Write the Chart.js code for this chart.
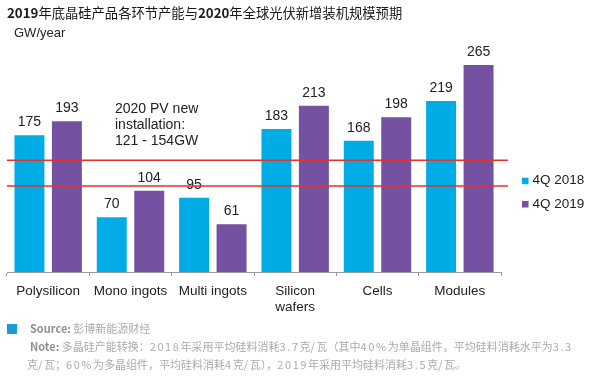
<!DOCTYPE html>
<html><head><meta charset="utf-8">
<script src="https://cdn.jsdelivr.net/npm/chart.js@4.4.1/dist/chart.umd.min.js"></script>
<style>
html,body{margin:0;padding:0;background:#fff;}
#wrap{position:relative;width:600px;height:377px;overflow:hidden;}
#c{position:absolute;left:0;top:0;}
.t{position:absolute;white-space:nowrap;}
#title{left:7px;top:4px;font-size:13.3px;line-height:17px;font-family:"Noto Sans CJK SC";color:#1a1a1a;}
#title b{font-weight:700;}
#unit{left:14px;top:25px;font:13px "Liberation Sans",Arial,sans-serif;line-height:16px;color:#222;}
#note{left:115px;top:100px;font:14px "Liberation Sans",Arial,sans-serif;line-height:16px;color:#222;}
#sq{position:absolute;left:7px;top:324px;width:10px;height:10px;background:#1a9bd7;}
.f{font-family:"Noto Sans CJK SC";font-size:11px;line-height:17.5px;color:#ababab;}
.f b{font-weight:700;color:#8f8f8f;}
.f i{font-style:normal;letter-spacing:1.6px;}
</style></head>
<body>
<div id="wrap">
<canvas id="c" width="600" height="377"></canvas>
<div class="t" id="title"><b>2019</b>年底晶硅产品各环节产能与<b>2020</b>年全球光伏新增装机规模预期</div>
<div class="t" id="unit">GW/year</div>
<div class="t" id="note">2020 PV new<br>installation:<br>121 - 154GW</div>
<div id="sq"></div>
<div class="t f" style="left:30px;top:320px;"><b>Source:</b> 彭博新能源财经</div>
<div class="t f" style="left:30px;top:338px;"><b>Note:</b> 多晶硅产能转换：<i>2018</i>年采用平均硅料消耗<i>3.7</i>克<i>/</i>瓦（其中<i>40%</i>为单晶组件，平均硅料消耗水平为<i>3.3</i></div>
<div class="t f" style="left:27px;top:355.5px;">克<i>/</i>瓦；<i>60%</i>为多晶组件，平均硅料消耗<i>4</i>克<i>/</i>瓦），<i>2019</i>年采用平均硅料消耗<i>3.5</i>克<i>/</i>瓦。</div>
</div>
<script>
const categories = ["Polysilicon", "Mono ingots", "Multi ingots", ["Silicon", "wafers"], "Cells", "Modules"];
const seriesNames = ["4Q 2018", "4Q 2019"];
const values2018 = [175, 70, 95, 183, 168, 219];
const values2019 = [193, 104, 61, 213, 198, 265];
const rangeLineValues = [110, 143];

const FONT = '"Liberation Sans", Arial, sans-serif';

const labelPlugin = {
  id: 'barLabels',
  afterDatasetsDraw(chart) {
    const ctx = chart.ctx;
    ctx.save();
    ctx.font = '14px ' + FONT;
    ctx.fillStyle = '#222';
    ctx.textAlign = 'center';
    ctx.textBaseline = 'middle';
    chart.data.datasets.forEach((ds, di) => {
      const meta = chart.getDatasetMeta(di);
      meta.data.forEach((el, i) => {
        ctx.fillText(String(ds.data[i]), el.x, el.y - 13);
      });
    });
    ctx.restore();
  }
};

const linePlugin = {
  id: 'rangeLines',
  afterDatasetsDraw(chart) {
    const ctx = chart.ctx, y = chart.scales.y, a = chart.chartArea;
    ctx.save();
    ctx.strokeStyle = '#e8302a';
    ctx.lineWidth = 1.5;
    rangeLineValues.forEach(v => {
      const py = y.getPixelForValue(v);
      ctx.beginPath();
      ctx.moveTo(a.left, py);
      ctx.lineTo(a.right + 7, py);
      ctx.stroke();
    });
    ctx.restore();
  }
};

const legendPlugin = {
  id: 'sideLegend',
  afterDraw(chart) {
    const ctx = chart.ctx;
    const x0 = chart.chartArea.right + 21;
    const yc0 = 180.7, step = 23.3;
    ctx.save();
    ctx.font = '13.5px ' + FONT;
    ctx.textBaseline = 'middle';
    ctx.textAlign = 'left';
    chart.data.datasets.forEach((ds, i) => {
      const yc = yc0 + i * step;
      ctx.fillStyle = ds.backgroundColor;
      ctx.fillRect(x0, yc - 3, 6.5, 6.5);
      ctx.fillStyle = '#222';
      ctx.fillText(ds.label, x0 + 10.5, yc);
    });
    ctx.restore();
  }
};

new Chart(document.getElementById('c'), {
  type: 'bar',
  data: {
    labels: categories,
    datasets: [
      { label: seriesNames[0], data: values2018, backgroundColor: '#00ace6' },
      { label: seriesNames[1], data: values2019, backgroundColor: '#7451a1' }
    ]
  },
  options: {
    responsive: false,
    animation: false,
    devicePixelRatio: 1,
    datasets: { bar: { categoryPercentage: 0.91, barPercentage: 0.8 } },
    layout: { padding: { left: 7, top: 37.7, right: 99, bottom: 0 } },
    plugins: {
      legend: { display: false },
      tooltip: { enabled: false },
      title: { display: false }
    },
    scales: {
      x: {
        grid: { display: true, drawOnChartArea: false, drawTicks: true, tickLength: 4, color: '#9a9a9a', offset: true },
        border: { display: true, color: '#9a9a9a', width: 1 },
        ticks: { color: '#222', font: { family: FONT, size: 13.5 }, padding: 7, maxRotation: 0, autoSkip: false },
        afterFit(s) { s.height = 105; }
      },
      y: { display: false, min: 0, max: 300 }
    }
  },
  plugins: [labelPlugin, linePlugin, legendPlugin]
});
</script>
</body></html>
